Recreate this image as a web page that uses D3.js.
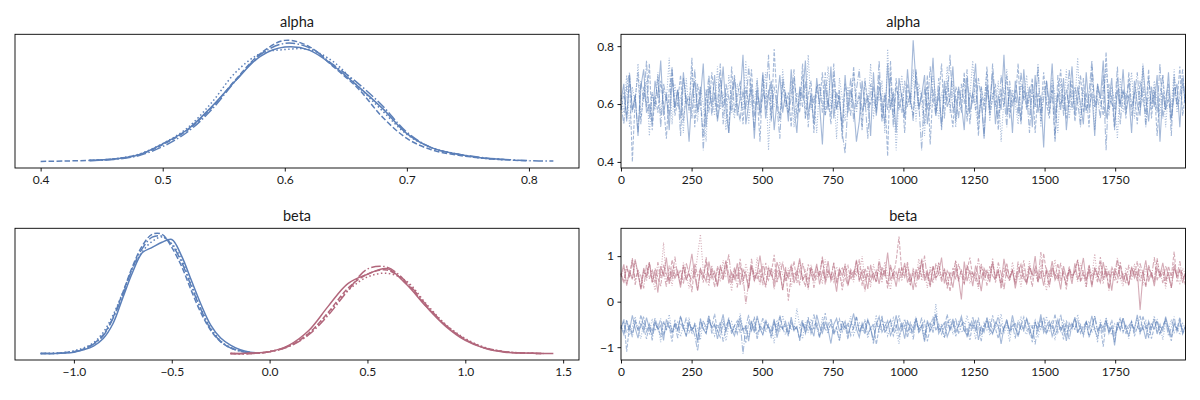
<!DOCTYPE html>
<html>
<head>
<meta charset="utf-8">
<script src="https://cdn.jsdelivr.net/npm/d3@7"></script>
<style>
  body { margin: 0; background: #fff; }
  text { font-family: Lato, "DejaVu Sans", sans-serif; fill: #1a1a1a; }
</style>
</head>
<body>
<svg id="chart" width="1200" height="400"></svg>
<script>
// KDE grids and per-chain densities
const alphaGrid = [0.40,0.42,0.44,0.46,0.48,0.50,0.52,0.54,0.56,0.58,0.60,0.62,0.64,0.66,0.68,0.70,0.72,0.74,0.76,0.78,0.80,0.82]
const alphaKde = [
  [null,null,0.08,0.16,0.39,1.02,1.82,3.12,4.62,5.98,6.50,6.33,5.43,4.28,3.03,1.60,0.81,0.46,0.24,0.14,null,null],
  [0.03,0.05,0.09,0.17,0.40,0.98,1.79,3.06,4.68,6.13,6.88,6.53,5.38,4.16,2.54,1.33,0.69,0.40,0.23,0.12,0.06,null],
  [null,null,0.09,0.17,0.43,1.04,1.91,3.35,5.09,6.13,6.36,6.36,5.66,4.28,2.89,1.56,0.81,0.46,0.23,0.12,null,null],
  [null,null,0.07,0.14,0.35,0.87,1.68,2.95,4.62,6.07,6.71,6.47,5.49,4.45,3.18,1.68,0.81,0.46,0.26,0.14,0.07,0.05]
]

const beta0Grid = [-1.17,-1.10,-1.05,-1.00,-0.95,-0.90,-0.85,-0.80,-0.75,-0.70,-0.65,-0.60,-0.55,-0.50,-0.45,-0.40,-0.35,-0.30,-0.25,-0.20,-0.15,-0.10,-0.05]
const beta0Kde = [
  [0.01,0.01,0.02,0.04,0.09,0.17,0.33,0.65,1.20,1.74,2.16,2.27,2.38,2.44,2.09,1.57,1.05,0.61,0.34,0.19,0.09,0.04,0.02],
  [0.01,0.01,0.03,0.05,0.11,0.22,0.41,0.78,1.31,1.87,2.31,2.55,2.55,2.27,1.87,1.35,0.87,0.50,0.26,0.13,0.07,0.03,null],
  [0.01,0.02,0.03,0.07,0.13,0.24,0.46,0.83,1.31,1.83,2.18,2.40,2.49,2.35,2.01,1.48,0.96,0.55,0.28,0.14,0.07,0.03,null],
  [0.01,0.01,0.02,0.05,0.10,0.21,0.39,0.76,1.26,1.83,2.25,2.49,2.51,2.33,1.96,1.44,0.94,0.52,0.27,0.13,0.06,0.03,null]
]

const beta1Grid = [-0.20,-0.10,0.00,0.10,0.20,0.30,0.40,0.50,0.60,0.70,0.80,0.90,1.00,1.10,1.20,1.30,1.40,1.45]
const beta1Kde = [
  [0.01,0.02,0.05,0.19,0.50,1.02,1.50,1.70,1.82,1.48,1.01,0.59,0.29,0.12,0.04,0.02,0.01,0.01],
  [0.01,0.01,0.05,0.17,0.44,0.89,1.40,1.70,1.79,1.50,1.02,0.61,0.31,0.13,0.05,0.02,0.01,null],
  [0.01,0.01,0.05,0.17,0.44,0.87,1.35,1.64,1.72,1.55,1.07,0.63,0.33,0.14,0.05,0.02,0.01,null],
  [0.01,0.01,0.05,0.16,0.41,0.83,1.35,1.81,1.85,1.53,1.05,0.61,0.31,0.13,0.05,0.02,0.01,null]
]

// thinned draws per chain, 200 kept of 2000
const alphaDraws = [
  [0.61,0.67,0.54,0.70,0.58,0.63,0.49,0.66,0.72,0.57,0.60,0.53,0.68,0.62,0.75,0.56,0.64,0.51,0.69,0.59,
   0.65,0.55,0.71,0.60,0.47,0.63,0.68,0.57,0.62,0.74,0.52,0.66,0.59,0.70,0.54,0.61,0.73,0.58,0.50,0.64,
   0.69,0.56,0.62,0.77,0.53,0.60,0.67,0.48,0.65,0.58,0.71,0.55,0.63,0.68,0.51,0.61,0.70,0.57,0.64,0.54,
   0.72,0.59,0.50,0.66,0.62,0.75,0.56,0.63,0.53,0.69,0.60,0.46,0.67,0.58,0.73,0.55,0.64,0.61,0.52,0.70,
   0.57,0.65,0.60,0.47,0.54,0.68,0.59,0.63,0.49,0.71,0.56,0.66,0.61,0.53,0.74,0.58,0.64,0.50,0.69,0.62,
   0.55,0.72,0.60,0.82,0.67,0.58,0.63,0.70,0.53,0.61,0.76,0.56,0.65,0.52,0.68,0.59,0.62,0.73,0.54,0.66,
   0.60,0.51,0.69,0.57,0.64,0.74,0.55,0.62,0.48,0.67,0.59,0.71,0.53,0.63,0.58,0.77,0.56,0.65,0.50,0.68,
   0.61,0.54,0.72,0.59,0.66,0.52,0.70,0.57,0.63,0.45,0.68,0.60,0.74,0.55,0.64,0.58,0.69,0.51,0.62,0.73,
   0.56,0.66,0.60,0.53,0.71,0.58,0.64,0.49,0.67,0.62,0.75,0.55,0.61,0.69,0.52,0.65,0.59,0.72,0.57,0.63,
   0.50,0.68,0.60,0.56,0.73,0.62,0.54,0.66,0.59,0.70,0.47,0.64,0.58,0.71,0.55,0.63,0.67,0.52,0.69,0.60],
  [0.58,0.64,0.55,0.69,0.40,0.62,0.71,0.53,0.66,0.59,0.74,0.51,0.63,0.57,0.68,0.60,0.48,0.65,0.72,0.56,
   0.61,0.70,0.54,0.63,0.58,0.76,0.52,0.67,0.60,0.49,0.65,0.57,0.71,0.62,0.55,0.69,0.59,0.64,0.50,0.73,
   0.57,0.62,0.68,0.53,0.66,0.60,0.72,0.56,0.63,0.47,0.70,0.58,0.65,0.54,0.79,0.61,0.55,0.67,0.59,0.64,
   0.52,0.69,0.61,0.57,0.74,0.55,0.63,0.68,0.50,0.66,0.60,0.71,0.56,0.62,0.53,0.70,0.58,0.65,0.48,0.67,
   0.62,0.56,0.73,0.59,0.64,0.51,0.68,0.61,0.60,0.66,0.57,0.70,0.54,0.63,0.42,0.75,0.55,0.69,0.58,0.64,
   0.50,0.67,0.61,0.56,0.72,0.59,0.64,0.53,0.70,0.46,0.65,0.58,0.62,0.74,0.55,0.68,0.60,0.52,0.66,0.63,
   0.57,0.71,0.54,0.64,0.60,0.69,0.49,0.66,0.58,0.73,0.56,0.62,0.67,0.51,0.65,0.59,0.70,0.55,0.63,0.61,
   0.74,0.53,0.66,0.58,0.62,0.69,0.50,0.64,0.57,0.71,0.60,0.55,0.67,0.48,0.63,0.72,0.56,0.65,0.59,0.68,
   0.54,0.61,0.70,0.57,0.64,0.52,0.73,0.59,0.66,0.62,0.56,0.78,0.58,0.63,0.51,0.69,0.60,0.65,0.55,0.71,
   0.59,0.64,0.53,0.68,0.61,0.57,0.72,0.55,0.66,0.49,0.63,0.70,0.58,0.62,0.54,0.67,0.60,0.73,0.56,0.64],
  [0.63,0.57,0.70,0.52,0.66,0.60,0.74,0.55,0.62,0.68,0.49,0.64,0.58,0.71,0.56,0.65,0.61,0.76,0.53,0.67,
   0.59,0.63,0.50,0.69,0.57,0.72,0.61,0.54,0.66,0.60,0.47,0.68,0.62,0.56,0.73,0.58,0.64,0.51,0.70,0.60,
   0.55,0.67,0.62,0.58,0.75,0.53,0.65,0.60,0.69,0.56,0.63,0.71,0.44,0.66,0.59,0.62,0.54,0.72,0.61,0.57,
   0.68,0.52,0.64,0.60,0.70,0.55,0.77,0.58,0.63,0.50,0.67,0.61,0.56,0.73,0.59,0.65,0.48,0.69,0.62,0.54,
   0.66,0.60,0.71,0.57,0.63,0.52,0.69,0.58,0.74,0.55,0.64,0.61,0.68,0.50,0.79,0.59,0.65,0.44,0.62,0.70,
   0.56,0.63,0.59,0.72,0.54,0.67,0.61,0.49,0.66,0.58,0.70,0.62,0.55,0.64,0.60,0.73,0.57,0.68,0.52,0.65,
   0.61,0.69,0.56,0.63,0.75,0.58,0.51,0.66,0.60,0.71,0.54,0.64,0.59,0.68,0.47,0.62,0.72,0.57,0.65,0.60,
   0.53,0.67,0.62,0.70,0.56,0.64,0.59,0.74,0.52,0.66,0.61,0.57,0.69,0.63,0.50,0.68,0.58,0.72,0.55,0.64,
   0.60,0.76,0.54,0.65,0.58,0.62,0.70,0.51,0.67,0.59,0.63,0.73,0.56,0.66,0.61,0.48,0.69,0.57,0.64,0.62,
   0.71,0.55,0.66,0.60,0.74,0.53,0.63,0.58,0.68,0.61,0.56,0.70,0.52,0.65,0.59,0.72,0.57,0.62,0.67,0.60],
  [0.60,0.53,0.66,0.71,0.57,0.63,0.50,0.68,0.61,0.75,0.55,0.64,0.59,0.70,0.52,0.67,0.62,0.56,0.73,0.58,
   0.65,0.49,0.69,0.60,0.63,0.55,0.72,0.58,0.66,0.44,0.61,0.70,0.56,0.64,0.59,0.74,0.53,0.67,0.62,0.57,
   0.70,0.60,0.54,0.65,0.58,0.73,0.62,0.51,0.68,0.56,0.64,0.61,0.77,0.55,0.66,0.59,0.48,0.69,0.63,0.57,
   0.62,0.72,0.55,0.65,0.59,0.68,0.52,0.64,0.60,0.66,0.67,0.57,0.71,0.61,0.56,0.74,0.58,0.63,0.50,0.43,
   0.60,0.69,0.54,0.65,0.72,0.57,0.62,0.48,0.67,0.61,0.59,0.75,0.55,0.64,0.58,0.70,0.52,0.66,0.62,0.57,
   0.68,0.59,0.64,0.54,0.71,0.60,0.44,0.66,0.58,0.73,0.62,0.56,0.69,0.51,0.65,0.61,0.77,0.57,0.63,0.55,
   0.67,0.60,0.72,0.53,0.64,0.58,0.69,0.62,0.49,0.66,0.57,0.74,0.60,0.55,0.70,0.63,0.52,0.68,0.59,0.65,
   0.56,0.71,0.61,0.64,0.50,0.67,0.59,0.73,0.54,0.62,0.68,0.57,0.65,0.47,0.70,0.60,0.63,0.55,0.72,0.58,
   0.66,0.61,0.52,0.69,0.57,0.64,0.75,0.59,0.62,0.55,0.70,0.44,0.67,0.60,0.58,0.73,0.53,0.65,0.61,0.68,
   0.56,0.63,0.71,0.58,0.66,0.52,0.69,0.60,0.64,0.57,0.74,0.55,0.62,0.67,0.49,0.70,0.59,0.63,0.72,0.58]
]

const beta0Draws = [
  [-0.55,-0.72,-0.41,-0.63,-0.30,-0.58,-0.80,-0.47,-0.66,-0.35,-0.59,-0.74,-0.44,-0.61,-0.52,-0.85,-0.39,-0.57,-0.69,-0.48,
   -0.62,-0.33,-0.56,-0.77,-0.45,-0.64,-0.51,-0.90,-0.40,-0.60,-0.70,-0.37,-0.58,-0.49,-0.82,-0.54,-0.28,-0.67,-0.43,-0.61,
   -0.75,-0.50,-0.36,-0.63,-0.55,-0.87,-0.42,-0.68,-0.31,-0.59,-0.73,-0.46,-0.57,-0.65,-0.38,-0.79,-0.52,-0.60,-0.44,-0.71,
   -0.34,-0.62,-0.56,-0.83,-0.48,-0.66,-0.40,-0.58,-0.76,-0.29,-0.54,-0.69,-0.45,-0.61,-0.92,-0.50,-0.37,-0.64,-0.57,-0.43,
   -0.72,-0.53,-0.26,-0.60,-0.78,-0.47,-0.65,-0.39,-0.58,-0.85,-0.51,-0.33,-0.67,-0.55,-0.42,-0.74,-0.59,-0.30,-0.63,-0.49,
   -0.81,-0.44,-0.57,-0.68,-0.36,-0.61,-0.53,-0.88,-0.41,-0.64,-0.50,-0.27,-0.70,-0.56,-0.46,-0.77,-0.60,-0.38,-0.66,-0.52,
   -0.32,-0.62,-0.75,-0.48,-0.58,-0.40,-0.84,-0.55,-0.67,-0.35,-0.60,-0.71,-0.45,-0.53,-0.93,-0.57,-0.42,-0.65,-0.30,-0.59,
   -0.73,-0.50,-0.63,-0.37,-0.56,-0.80,-0.46,-0.61,-0.28,-0.68,-0.54,-0.43,-0.76,-0.58,-0.39,-0.64,-0.51,-0.86,-0.47,-0.60,
   -0.34,-0.66,-0.55,-0.72,-0.44,-0.59,-0.31,-0.62,-0.79,-0.49,-0.57,-0.40,-0.70,-0.53,-0.96,-0.45,-0.63,-0.36,-0.58,-0.74,
   -0.50,-0.61,-0.29,-0.67,-0.55,-0.82,-0.43,-0.60,-0.38,-0.71,-0.52,-0.64,-0.33,-0.57,-0.78,-0.47,-0.62,-0.41,-0.69,-0.54],
  [-0.60,-0.38,-1.10,-0.52,-0.71,-0.45,-0.63,-0.29,-0.57,-0.82,-0.49,-0.66,-0.36,-0.58,-0.75,-0.43,-0.61,-0.54,-0.88,-0.40,
   -0.65,-0.31,-0.56,-0.73,-0.47,-0.62,-0.50,-0.84,-0.37,-0.59,-0.69,-0.44,-0.55,-0.27,-0.64,-0.78,-0.48,-0.60,-0.35,-0.71,
   -0.53,-0.42,-0.67,-0.58,-0.90,-0.46,-0.61,-0.33,-0.74,-0.51,-0.63,-0.39,-0.56,-0.80,-0.45,-0.68,-0.30,-0.59,-0.52,-0.76,
   -0.41,-0.64,-0.55,-0.86,-0.47,-0.60,-0.34,-0.70,-0.53,-0.44,-0.77,-0.58,-0.25,-0.62,-0.49,-0.73,-0.56,-0.38,-0.66,-0.51,
   -0.83,-0.45,-0.59,-0.32,-0.68,-0.54,-0.72,-0.40,-0.61,-0.48,-0.94,-0.57,-0.36,-0.65,-0.50,-0.43,-0.75,-0.58,-0.30,-0.63,
   -0.52,-0.79,-0.46,-0.60,-0.37,-0.69,-0.55,-0.42,-0.87,-0.58,-0.33,-0.64,-0.49,-0.71,-0.56,-0.28,-0.62,-0.45,-0.76,-0.53,
   -0.40,-0.67,-0.57,-0.84,-0.47,-0.61,-0.35,-0.73,-0.54,-0.43,-0.65,-0.30,-0.59,-0.81,-0.50,-0.62,-0.38,-0.70,-0.56,-0.46,
   -0.77,-0.52,-0.34,-0.63,-0.58,-0.89,-0.44,-0.66,-0.39,-0.55,-0.72,-0.48,-0.60,-0.27,-0.68,-0.53,-0.83,-0.41,-0.64,-0.57,
   -0.36,-0.70,-0.50,-0.61,-0.45,-0.78,-0.56,-0.32,-0.65,-0.53,-0.99,-0.47,-0.62,-0.40,-0.74,-0.58,-0.35,-0.67,-0.51,-0.60,
   -0.43,-0.76,-0.55,-0.64,-0.31,-0.59,-0.48,-0.81,-0.57,-0.42,-0.69,-0.53,-0.38,-0.63,-0.86,-0.50,-0.60,-0.34,-0.71,-0.56],
  [-0.52,-0.67,-0.40,-0.74,-0.55,-0.33,-0.62,-0.81,-0.46,-0.58,-0.70,-0.37,-0.64,-0.50,-0.89,-0.43,-0.60,-0.28,-0.68,-0.56,
   -0.45,-0.77,-0.53,-0.61,-0.35,-0.72,-0.48,-0.59,-0.84,-0.42,-0.66,-0.31,-0.57,-0.75,-0.50,-0.63,-0.39,-0.86,-0.54,-0.44,
   -0.69,-0.58,-0.26,-0.62,-0.51,-0.79,-0.47,-0.65,-0.36,-0.56,-0.73,-0.43,-0.60,-0.53,-0.91,-0.40,-0.66,-0.30,-0.58,-0.71,
   -0.49,-0.63,-0.15,-0.55,-0.82,-0.45,-0.68,-0.38,-0.61,-0.52,-0.76,-0.34,-0.59,-0.70,-0.44,-0.64,-0.57,-0.87,-0.41,-0.62,
   -0.54,-0.32,-0.73,-0.58,-0.47,-0.66,-0.39,-0.80,-0.55,-0.60,-0.29,-0.69,-0.51,-0.43,-0.75,-0.57,-0.36,-0.64,-0.93,-0.48,
   -0.61,-0.40,-0.70,-0.55,-0.33,-0.67,-0.52,-0.85,-0.45,-0.62,-0.58,-0.05,-0.64,-0.49,-0.78,-0.56,-0.37,-0.72,-0.53,-0.44,
   -0.68,-0.59,-0.30,-0.63,-0.50,-0.83,-0.42,-0.66,-0.54,-0.38,-0.74,-0.57,-0.46,-0.61,-0.27,-0.70,-0.52,-0.88,-0.44,-0.60,
   -0.55,-0.35,-0.65,-0.72,-0.48,-0.58,-0.41,-0.79,-0.53,-0.62,-0.32,-0.67,-0.50,-0.85,-0.45,-0.60,-0.39,-0.71,-0.56,-0.47,
   -0.63,-0.28,-0.59,-0.76,-0.51,-0.43,-0.68,-0.55,-0.90,-0.40,-0.64,-0.34,-0.57,-0.73,-0.49,-0.61,-0.37,-0.66,-0.53,-0.81,
   -0.46,-0.60,-0.36,-0.70,-0.54,-0.42,-0.77,-0.58,-0.31,-0.64,-0.50,-0.84,-0.45,-0.62,-0.39,-0.68,-0.55,-0.73,-0.48,-0.59],
  [-0.57,-0.44,-0.69,-0.53,-0.78,-0.40,-0.62,-0.55,-0.32,-0.66,-0.50,-0.85,-0.46,-0.60,-0.37,-0.72,-0.58,-0.43,-0.64,-0.51,
   -0.80,-0.47,-0.59,-0.35,-0.68,-0.55,-0.74,-1.08,-0.61,-0.42,-0.56,-0.30,-0.70,-0.52,-0.63,-0.45,-0.88,-0.58,-0.38,-0.66,
   -0.53,-0.71,-0.41,-1.15,-0.55,-0.29,-0.64,-0.48,-0.82,-0.57,-0.36,-0.67,-0.50,-0.76,-0.44,-0.61,-0.33,-0.59,-0.73,-0.47,
   -0.62,-0.54,-0.60,-0.58,-0.39,-0.70,-0.51,-0.65,-0.28,-0.56,-0.79,-0.45,-0.63,-0.52,-0.37,-0.68,-0.59,-0.86,-0.42,-0.60,
   -0.48,-0.75,-0.56,-0.34,-0.66,-0.53,-0.43,-0.71,-0.58,-0.92,-0.46,-0.62,-0.31,-0.69,-0.55,-0.40,-0.64,-0.50,-0.77,-0.57,
   -0.38,-0.65,-0.52,-0.83,-0.45,-0.60,-0.35,-0.72,-0.56,-0.47,-0.68,-0.29,-0.61,-0.54,-0.80,-0.42,-0.63,-0.57,-0.36,-0.70,
   -0.51,-0.44,-0.76,-0.59,-0.33,-0.64,-0.53,-0.87,-0.47,-0.62,-0.39,-0.68,-0.55,-0.30,-0.73,-0.58,-0.45,-0.66,-0.50,-0.81,
   -0.41,-0.63,-0.56,-0.37,-0.70,-0.52,-0.94,-0.46,-0.60,-0.34,-0.67,-0.55,-0.43,-0.74,-0.58,-0.28,-0.65,-0.51,-0.84,-0.48,
   -0.61,-0.39,-0.69,-0.54,-0.45,-0.78,-0.57,-0.32,-0.63,-0.50,-0.72,-0.42,-0.66,-0.56,-0.89,-0.47,-0.60,-0.35,-0.71,-0.53,
   -0.44,-0.67,-0.58,-0.31,-0.64,-0.52,-0.80,-0.46,-0.62,-0.38,-0.70,-0.55,-0.42,-0.75,-0.57,-0.33,-0.66,-0.50,-0.61,-0.54]
]

const beta1Draws = [
  [0.58,0.82,0.35,0.67,0.49,0.93,0.61,0.27,0.74,0.53,0.86,0.42,0.65,0.20,0.78,0.56,0.97,0.39,0.70,0.51,
   0.63,0.31,0.80,0.47,0.69,1.05,0.55,0.24,0.72,0.60,0.44,0.88,0.52,0.66,0.33,0.76,0.58,0.91,0.40,0.64,
   0.50,0.84,0.37,0.71,0.57,0.29,0.79,0.46,0.62,1.01,0.54,0.35,0.73,0.59,0.43,0.87,0.66,0.25,0.69,0.52,
   0.77,0.41,0.62,0.95,0.48,0.58,0.30,0.75,0.55,0.83,0.38,0.67,0.51,0.89,0.45,0.61,0.22,0.72,0.57,0.80,
   0.36,0.65,0.53,0.92,0.44,0.70,0.60,0.28,0.81,0.49,0.68,0.39,0.76,0.56,1.08,0.47,0.63,0.33,0.74,0.55,
   0.85,0.42,0.59,0.26,0.71,0.54,0.90,0.46,0.64,0.37,0.78,0.52,0.61,0.97,0.40,0.68,0.57,0.31,0.75,0.50,
   0.05,0.88,0.45,0.69,0.34,0.79,0.56,0.23,0.73,0.60,0.43,0.86,0.53,0.66,0.38,0.94,0.58,0.48,0.71,0.29,
   0.64,0.82,0.51,0.41,0.76,0.57,1.00,0.44,0.67,0.35,0.72,0.55,0.89,0.47,0.60,0.27,0.78,0.53,0.68,0.39,
   0.84,0.50,0.63,0.96,0.45,0.70,0.32,0.75,0.58,0.42,0.87,0.54,0.66,0.24,0.73,0.56,0.80,0.46,0.61,0.37,
   0.77,0.52,0.68,-0.18,0.59,0.91,0.44,0.65,0.34,0.74,0.57,0.85,0.49,0.62,0.30,0.79,0.55,0.70,0.41,0.64],
  [0.62,0.40,0.79,0.55,0.96,0.47,0.70,0.28,0.65,0.58,0.87,0.43,0.73,0.52,0.34,0.81,0.60,0.45,0.92,0.56,
   0.68,0.37,0.76,0.50,0.63,0.21,0.84,0.57,0.71,0.42,0.98,0.54,0.66,0.32,0.78,0.59,0.47,0.88,0.61,0.39,
   0.74,0.53,0.94,0.45,0.67,0.30,0.80,0.58,0.49,0.72,0.36,0.85,0.55,0.64,1.03,0.43,0.69,0.26,0.77,0.02,
   0.60,0.89,0.41,0.70,0.54,0.33,0.82,0.62,0.46,0.75,0.57,0.99,0.38,0.66,0.52,0.86,0.44,0.71,0.25,0.63,
   0.79,0.48,0.67,0.58,0.93,0.35,0.73,0.55,0.45,0.61,0.42,0.84,0.50,0.69,0.29,0.77,0.56,0.90,1.43,0.64,
   0.53,0.81,0.37,0.72,0.60,0.47,0.95,0.55,0.68,0.31,0.78,0.52,0.86,0.43,0.65,0.58,0.22,0.74,0.49,0.83,
   0.59,0.40,0.70,0.97,0.54,0.63,0.34,0.80,0.47,0.67,0.56,0.88,0.42,0.73,0.28,0.61,0.85,0.51,0.69,0.38,
   0.76,0.55,0.91,0.44,0.64,0.33,0.79,0.58,0.49,1.06,0.62,0.39,0.71,0.53,0.84,0.46,0.67,0.27,0.75,0.57,
   0.66,0.92,0.43,0.60,0.50,0.81,0.36,0.72,0.55,0.98,0.47,0.68,0.30,0.77,0.58,0.41,0.87,0.53,0.63,0.35,
   0.74,0.56,0.89,0.45,0.69,0.31,0.80,0.59,0.48,0.94,0.52,0.65,0.38,0.78,0.55,1.10,0.44,0.70,0.60,0.36],
  [0.55,0.74,0.38,0.66,0.50,0.89,0.60,0.31,0.71,0.46,0.83,0.57,0.25,0.68,0.52,1.30,0.43,0.64,0.35,0.78,
   0.58,0.47,0.86,0.62,0.29,0.73,0.54,1.02,1.48,0.67,0.59,0.34,0.80,0.51,0.70,0.44,0.91,0.56,0.63,0.23,
   0.76,0.49,0.65,0.37,0.84,0.57,0.72,0.45,0.97,0.53,0.61,0.30,0.79,0.55,0.68,0.42,0.87,0.59,0.48,0.74,
   0.33,0.64,0.56,0.90,0.46,0.71,0.27,0.81,0.58,0.50,0.69,0.39,0.93,0.54,0.62,0.44,0.77,0.60,0.36,0.85,
   0.52,0.66,0.43,0.75,0.58,1.00,0.48,0.63,0.32,0.82,0.55,0.70,0.41,0.88,0.59,0.26,0.73,0.51,0.67,0.45,
   0.80,0.57,0.38,0.69,0.54,0.94,0.46,0.65,0.30,0.78,0.60,0.49,0.86,0.53,0.72,0.35,0.62,0.56,0.91,0.43,
   0.67,0.52,0.79,0.40,0.63,0.58,0.28,0.84,0.55,0.71,0.47,0.96,0.50,0.64,0.37,0.76,0.59,0.45,0.87,0.54,
   0.61,0.33,0.74,0.56,0.89,0.48,0.66,0.42,0.81,0.58,0.24,0.70,0.53,0.93,0.46,0.63,0.57,0.38,0.78,0.51,
   0.68,0.44,0.85,0.59,0.31,0.72,0.55,1.05,0.49,0.64,0.39,0.80,0.57,0.67,0.45,0.90,0.52,0.34,0.75,0.60,
   0.47,0.83,0.56,0.69,0.36,0.77,0.53,0.62,0.42,0.95,0.58,0.71,0.29,0.66,0.50,0.86,0.55,0.40,0.73,0.61],
  [0.60,0.45,0.77,0.53,0.92,0.37,0.68,0.57,0.29,0.82,0.50,0.71,0.41,0.87,0.55,0.64,0.33,0.79,0.48,0.99,
   0.56,0.70,0.39,0.85,0.61,0.46,0.74,0.25,0.66,0.54,0.90,0.43,0.72,0.58,0.35,0.81,0.52,0.68,1.04,0.47,
   0.63,0.31,0.78,0.56,-0.05,0.42,0.94,0.51,0.65,0.38,0.83,0.59,0.47,0.75,0.27,0.70,0.55,0.88,0.44,0.62,
   0.80,0.53,0.67,0.36,0.86,0.58,0.49,0.73,0.30,0.64,0.57,0.97,0.45,0.69,0.52,0.84,0.40,0.61,0.76,0.55,
   0.34,0.71,0.59,0.89,0.48,0.66,0.22,0.78,0.54,0.62,0.43,0.93,0.57,0.70,0.39,0.81,0.51,0.65,0.46,0.75,
   0.58,0.87,0.44,0.63,0.32,0.77,0.55,1.01,0.49,0.68,0.40,0.84,0.60,0.52,0.73,0.28,0.66,0.56,0.90,0.47,
   0.71,0.38,0.82,0.59,0.64,0.45,0.95,0.53,0.69,0.35,0.78,0.57,0.48,0.86,0.62,0.26,0.74,0.55,0.67,0.42,
   0.88,0.51,0.63,0.37,0.80,0.58,0.70,0.44,1.09,0.54,0.66,0.31,0.76,0.60,0.49,0.85,0.56,0.40,0.72,0.53,
   0.65,0.92,0.46,0.69,0.33,0.79,0.57,0.61,0.43,0.87,0.52,0.74,0.24,0.67,0.58,0.96,0.48,0.63,0.39,0.81,
   0.55,0.70,0.45,0.84,0.60,0.36,0.77,0.53,0.98,0.47,0.66,0.41,0.79,0.58,0.30,0.73,0.56,0.89,0.50,0.62]
]
const lastDraw = 1999

// tick labels
const alphaKdeTicks = [0.4, 0.5, 0.6, 0.7, 0.8]
const betaKdeTicks = [-1.0, -0.5, 0.0, 0.5, 1.0, 1.5]
const drawTicks = [0, 250, 500, 750, 1000, 1250, 1500, 1750]
const alphaTraceTicks = [0.4, 0.6, 0.8]
const betaTraceTicks = [-1, 0, 1]

const blue = "#5b7fb8"
const red = "#b2677c"
const chainDash = ["", "3.7,1.6", "1,1.65", "6.4,1.6,1,1.6"]

const svg = d3.select("#chart")
const cols = [[15, 579], [621, 1185.5]]
const rows = [[34.3, 168], [228.3, 360]]

// matplotlib-style 5% padding
const pad = ([a, b]) => [a - (b - a) * 0.05, b + (b - a) * 0.05]

function frame(col, row, title) {
  const [x0, x1] = cols[col], [y0, y1] = rows[row]
  svg.append("text")
    .attr("x", (x0 + x1) / 2).attr("y", y0 - 7.5)
    .attr("text-anchor", "middle")
    .style("font-size", "14.5px")
    .text(title)
  svg.append("rect")
    .attr("x", x0).attr("y", y0)
    .attr("width", x1 - x0).attr("height", y1 - y0)
    .attr("fill", "none").attr("stroke", "#000").attr("stroke-width", 0.9)
}

function styleAxis(g) {
  g.select(".domain").remove()
  g.selectAll(".tick line").attr("stroke", "#000").attr("stroke-width", 0.9)
  g.selectAll(".tick text").style("font-size", "12px").style("font-family", "Lato, sans-serif").attr("fill", "#1a1a1a")
}

function kdePanel(row, title, sets, ticks) {
  const [x0, x1] = cols[0], [y0, y1] = rows[row]
  const allX = sets.flatMap(s => s.grid)
  const maxY = d3.max(sets.flatMap(s => s.kde.flat()))
  const x = d3.scaleLinear().domain(pad(d3.extent(allX))).range([x0, x1])
  const y = d3.scaleLinear().domain(pad([0, maxY])).range([y1, y0])
  const line = d3.line()
    .defined(d => d[1] != null)
    .x(d => x(d[0])).y(d => y(d[1]))
    .curve(d3.curveCatmullRom)

  sets.forEach(s => {
    s.kde.forEach((vals, c) => {
      svg.append("path")
        .datum(s.grid.map((v, i) => [v, vals[i]]))
        .attr("d", line)
        .attr("fill", "none")
        .attr("stroke", s.color)
        .attr("stroke-width", 1.5)
        .attr("stroke-dasharray", chainDash[c].split(",").map(v => v * 1.5).join(",") || null)
    })
  })

  frame(0, row, title)
  svg.append("g")
    .attr("transform", `translate(0,${y1})`)
    .call(d3.axisBottom(x).tickValues(ticks).tickFormat(d3.format(".1f")).tickSize(3.5).tickPadding(3.5))
    .call(styleAxis)
}

function tracePanel(row, title, sets, yTicks, fmt) {
  const [x0, x1] = cols[1], [y0, y1] = rows[row]
  const allY = sets.flatMap(s => s.draws.flat())
  const x = d3.scaleLinear().domain([0, lastDraw]).range([x0, x1])
  const y = d3.scaleLinear().domain(pad(d3.extent(allY))).range([y1, y0])

  sets.forEach(s => {
    s.draws.forEach((vals, c) => {
      const n = vals.length
      const line = d3.line()
        .x((d, i) => x(i * lastDraw / (n - 1)))
        .y(d => y(d))
      svg.append("path")
        .datum(vals)
        .attr("d", line)
        .attr("fill", "none")
        .attr("stroke", s.color)
        .attr("stroke-opacity", 0.55)
        .attr("stroke-width", 1.1)
        .attr("stroke-dasharray", chainDash[c] || null)
    })
  })

  frame(1, row, title)
  svg.append("g")
    .attr("transform", `translate(0,${y1})`)
    .call(d3.axisBottom(x).tickValues(drawTicks).tickFormat(d3.format("d")).tickSize(3.5).tickPadding(3.5))
    .call(styleAxis)
  svg.append("g")
    .attr("transform", `translate(${x0},0)`)
    .call(d3.axisLeft(y).tickValues(yTicks).tickFormat(d3.format(fmt)).tickSize(3.5).tickPadding(3.5))
    .call(styleAxis)
}

kdePanel(0, "alpha", [{ grid: alphaGrid, kde: alphaKde, color: blue }], alphaKdeTicks)
kdePanel(1, "beta", [
  { grid: beta0Grid, kde: beta0Kde, color: blue },
  { grid: beta1Grid, kde: beta1Kde, color: red }
], betaKdeTicks)
tracePanel(0, "alpha", [{ draws: alphaDraws, color: blue }], alphaTraceTicks, ".1f")
tracePanel(1, "beta", [
  { draws: beta0Draws, color: blue },
  { draws: beta1Draws, color: red }
], betaTraceTicks, "d")
</script>
</body>
</html>
